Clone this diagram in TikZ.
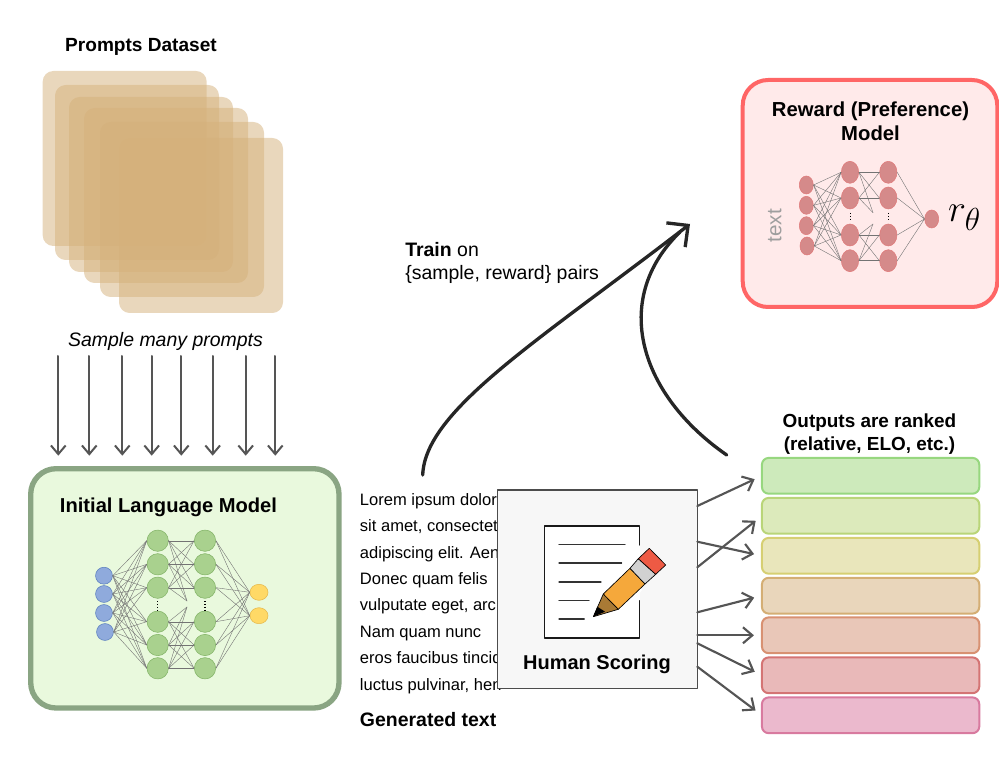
\documentclass[tikz,border=0pt]{standalone}
\usepackage{fontspec}
\setmainfont{Liberation Sans}
\usetikzlibrary{arrows.meta,shapes.geometric,shadows}
\definecolor{ddbbaa}{HTML}{D4B07A}
\definecolor{eeff99}{HTML}{E9F9DD}
\definecolor{aabb88}{HTML}{8AA583}
\definecolor{ffeeee}{HTML}{FFEAEA}
\definecolor{ff6666}{HTML}{FF6666}
\definecolor{qq5555}{HTML}{555555}
\definecolor{aad18e}{HTML}{A9D18E}
\definecolor{82b366}{HTML}{82B366}
\definecolor{8faadc}{HTML}{8FAADC}
\definecolor{5b7fbe}{HTML}{5B7FBE}
\definecolor{ffd966}{HTML}{FFD966}
\definecolor{e6b84a}{HTML}{E6B84A}
\definecolor{d58a8a}{HTML}{D58A8A}
\definecolor{e07a7a}{HTML}{E07A7A}
\definecolor{cdeabb}{HTML}{CDEABB}
\definecolor{97d77f}{HTML}{97D77F}
\definecolor{dceabb}{HTML}{DCEABB}
\definecolor{b9d578}{HTML}{B9D578}
\definecolor{e9e6bb}{HTML}{E9E6BB}
\definecolor{d6cf72}{HTML}{D6CF72}
\definecolor{e9d6bb}{HTML}{E9D6BB}
\definecolor{d4ae74}{HTML}{D4AE74}
\definecolor{e9c7b8}{HTML}{E9C7B8}
\definecolor{d89172}{HTML}{D89172}
\definecolor{e9b9b9}{HTML}{E9B9B9}
\definecolor{d47474}{HTML}{D47474}
\definecolor{ebb9cd}{HTML}{EBB9CD}
\definecolor{d87a9f}{HTML}{D87A9F}
\definecolor{f5a83b}{HTML}{F5A83B}
\definecolor{a97a35}{HTML}{A97A35}
\definecolor{ee5a44}{HTML}{EE5A44}
\tikzset{
	titletext/.style={inner sep=0pt,align=center,font=\fontsize{14.3}{17.6}\selectfont\bfseries},
	plaintext/.style={inner sep=0pt,align=left,font=\fontsize{14.6}{17.5}\selectfont},
	promptsheet/.style={fill=ddbbaa,fill opacity=0.5,rounded corners=8pt},
	modelbox/.style={rectangle,rounded corners=19pt,outer sep=0pt,drop shadow={opacity=0.2,shadow xshift=0pt,shadow yshift=-1.5pt}},
	rankbox/.style={rectangle,draw,line width=1.5pt,rounded corners=5pt,minimum width=163pt,minimum height=26.8pt,outer sep=0pt},
	sampleline/.style={draw=qq5555,line width=1.5pt,-{Straight Barb[length=6.5pt,width=11pt]},shorten >=13*0.75pt},
	scoreline/.style={draw=qq5555,line width=1.6pt,-{Straight Barb[length=7pt,width=12pt]},shorten >=6pt},
	trainline/.style={draw=black!85,line width=2.5pt,line cap=round},
	edge/.style={draw=black!55,line width=0.3pt},
	neuron/.style={ellipse,draw,line width=0.4pt,inner sep=0pt},
}
\begin{document}
\begin{tikzpicture}[line cap=round,line join=round,x=0.75pt,y=-0.75pt]
	\useasboundingbox (0,0) rectangle (999,762);
	% stack of prompts
	\foreach \x/\y in {42.7/71,55/85,69/97,84/108,100/122,119/138}
		\fill[promptsheet] (\x,\y) rectangle ++(164,175);
	\node[titletext] (dataset) at (141,47) {Prompts Dataset};
	\node[plaintext,font=\fontsize{14.6}{17.5}\selectfont\itshape] (sample) at (165.5,341) {Sample many prompts};
	% language model
	\node[modelbox,draw=aabb88,fill=eeff99,line width=4pt,minimum width=231.2pt,minimum height=179.5pt] (model) at (184.85,588.35) {};
	\node[titletext,font=\fontsize{15.1}{18}\selectfont\bfseries] (modeltitle) at (168.5,507.5) {Initial Language Model};
	\foreach \i/\x in {1/58.3,2/89.3,3/122.3,4/151.7,5/181.3,6/212.7,7/245.7,8/275.3}{
		\coordinate (d\i) at (\x,356);
		\draw[sampleline] (d\i) -- (d\i |- model.north);
	}
	% green net
	\foreach \i/\x/\y in {1/104/575.7,2/104/594,3/104/613,4/105/632}
		\node[neuron,draw=5b7fbe,fill=8faadc,minimum width=12.7pt,minimum height=12.7pt] (gi\i) at (\x,\y) {};
	\foreach \i/\y in {1/540.7,2/564.3,3/587.7,4/621.7,5/645,6/668.3}{
		\node[neuron,draw=82b366,fill=aad18e,minimum width=16pt,minimum height=16pt] (ga\i) at (157.7,\y) {};
		\node[neuron,draw=82b366,fill=aad18e,minimum width=16pt,minimum height=16pt] (gb\i) at (205,\y) {};
	}
	\node[neuron,draw=e6b84a,fill=ffd966,minimum width=13.5pt,minimum height=12pt] (go1) at (259,592.3) {};
	\node[neuron,draw=e6b84a,fill=ffd966,minimum width=13.5pt,minimum height=12pt] (go2) at (259,615.7) {};
	\coordinate (gs1) at (187,601);
	\coordinate (gs2) at (187,607);
	\foreach \i in {1,2,3,4}
		\foreach \j in {1,...,6}
			\draw[edge] (gi\i.east) -- (ga\j.west);
	\foreach \i in {1,2,3}{
		\draw[edge] (ga\i.east) -- (gs1);
		\foreach \j in {1,2,3}
			\draw[edge] (ga\i.east) -- (gb\j.west);
	}
	\foreach \i in {4,5,6}{
		\draw[edge] (ga\i.east) -- (gs2);
		\foreach \j in {4,5,6}
			\draw[edge] (ga\i.east) -- (gb\j.west);
	}
	\foreach \i in {1,...,6}
		\foreach \j in {1,2}
			\draw[edge] (gb\i.east) -- (go\j.west);
	\draw[line width=0.8pt,dash pattern=on 1pt off 1.2pt,line cap=butt] (157.7,601) -- (157.7,610);
	\draw[line width=0.8pt,dash pattern=on 1pt off 1.2pt,line cap=butt] (205,601) -- (205,610);
	% reward model
	\node[modelbox,draw=ff6666,fill=ffeeee,line width=3pt,minimum width=190.9pt,minimum height=170.25pt] (reward) at (870,193.5) {};
	\node[titletext,font=\fontsize{15.2}{18}\selectfont\bfseries] (rewardtitle) at (870.5,121) {Reward (Preference)\\Model};
	\node[plaintext,font=\fontsize{15.5}{18}\selectfont,text=black!38,rotate=90] (rtext) at (774.7,225.7) {text};
	\foreach \i/\x/\y in {1/806.3/185,2/806.3/205.3,3/806.3/225.7,4/807/246}
		\node[neuron,draw=e07a7a,fill=d58a8a,minimum width=10.5pt,minimum height=13.5pt] (ri\i) at (\x,\y) {};
	\foreach \i/\y in {1/172.3,2/198,3/235,4/260.7}{
		\node[neuron,draw=e07a7a,fill=d58a8a,minimum width=13pt,minimum height=16.5pt] (ra\i) at (850,\y) {};
		\node[neuron,draw=e07a7a,fill=d58a8a,minimum width=13pt,minimum height=16.5pt] (rb\i) at (888.3,\y) {};
	}
	\node[neuron,draw=e07a7a,fill=d58a8a,minimum width=10.5pt,minimum height=13.5pt] (ro) at (931.7,219) {};
	\coordinate (rs1) at (873,212.7);
	\coordinate (rs2) at (873,224);
	\foreach \i in {1,2,3,4}{
		\foreach \j in {1,2,3,4}
			\draw[edge] (ri\i.east) -- (ra\j.west);
		\draw[edge] (rb\i.east) -- (ro.west);
	}
	\foreach \i in {1,2}{
		\draw[edge] (ra\i.east) -- (rs1);
		\foreach \j in {1,2}
			\draw[edge] (ra\i.east) -- (rb\j.west);
	}
	\foreach \i in {3,4}{
		\draw[edge] (ra\i.east) -- (rs2);
		\foreach \j in {3,4}
			\draw[edge] (ra\i.east) -- (rb\j.west);
	}
	\draw[line width=0.8pt,dash pattern=on 1pt off 1.2pt,line cap=butt] (850.7,213) -- (850.7,221);
	\draw[line width=0.8pt,dash pattern=on 1pt off 1.2pt,line cap=butt] (888.3,213) -- (888.3,221);
	\node[inner sep=0pt,font=\fontsize{24.88}{28}\selectfont] (rtheta) at (964.5,218) {\scalebox{1.15}{$r_\theta$}};
	% generated text, the scoring box covers the line ends
	\node[plaintext,font=\fontsize{12.4}{19.8}\selectfont,anchor=north west] (gentext) at (359.7,493) {Lorem ipsum dolor\\sit amet, consectet\\adipiscing elit. Aen\\Donec quam felis\\vulputate eget, arc\\Nam quam nunc\\eros faucibus tincid\\luctus pulvinar, hen};
	\node[titletext,font=\fontsize{14.6}{17.6}\selectfont\bfseries,anchor=west] (gentitle) at (359.7,720) {Generated text};
	\node[plaintext,anchor=west] (trainlabel) at (405,263) {\textbf{Train} on\\\{sample, reward\} pairs};
	% human scoring
	\node[rectangle,draw=black!70,fill=black!3,line width=0.8pt,minimum width=149.5pt,minimum height=149pt,outer sep=0pt] (score) at (597.4,589.3) {};
	\fill[white] (544.3,526) rectangle (639.7,638);
	\draw[line width=0.8pt,black!90] (639.7,545) -- (639.7,526) -- (544.3,526) -- (544.3,638) -- (639.7,638) -- (639.7,600.7);
	\foreach \x/\y in {625/544.3,621.7/563,601/582,589/600.3,584.3/619}
		\draw[line width=0.8pt,black!80] (559,\y) -- (\x,\y);
	\fill[white] (600,590) -- (630,561) -- (642,590) -- (622,615) -- cycle;
	\filldraw[fill=a97a35,line width=0.5pt] (593.3,616.7) -- (603.3,594) -- (618.3,609.3) -- cycle;
	\fill[black] (593.3,616.7) -- (597.3,606.7) -- (605,611.7) -- cycle;
	\filldraw[fill=f5a83b,line width=0.5pt] (603.3,594) -- (630,568.3) -- (645,584) -- (618.3,609.3) -- cycle;
	\filldraw[fill=black!18,line width=0.5pt] (630,568.3) -- (638.3,558.7) -- (655.7,574.3) -- (645,584) -- cycle;
	\filldraw[fill=ee5a44,line width=0.5pt] (638.3,558.7) -- (649.3,548.3) -- (665.7,565) -- (655.7,574.3) -- cycle;
	\node[titletext,font=\fontsize{15}{18}\selectfont\bfseries] (scoretitle) at (597,664) {Human Scoring};
	% ranked outputs
	\node[titletext,font=\fontsize{14.2}{17.5}\selectfont\bfseries] (ranktitle) at (869.5,434) {Outputs are ranked\\(relative, ELO, etc.)};
	\foreach \i/\y/\f/\d in {1/475.8/cdeabb/97d77f,2/515.8/dceabb/b9d578,3/555.8/e9e6bb/d6cf72,4/595.7/e9d6bb/d4ae74,5/635.3/e9c7b8/d89172,6/675.3/e9b9b9/d47474,7/715.3/ebb9cd/d87a9f}
		\node[rankbox,draw=\d,fill=\f] (rank\i) at (870.6,\y) {};
	\foreach \i/\y in {1/506,2/567.3,3/541.7,4/612.3,5/635.3,6/643.3,7/666.7}{
		\coordinate (s\i) at (697.3,\y);
		\draw[scoreline] (s\i) -- (rank\i.west);
	}
	% training curves
	\coordinate (genout) at (422.7,475);
	\coordinate (rankout) at (726.7,455);
	\coordinate (rewardin) at (690,224);
	\coordinate (merge) at (680,232);
	\draw[trainline,-{Straight Barb[length=11.7pt,width=23pt]}] (genout) .. controls (425,410) and (540,340) .. (rewardin);
	\draw[trainline] (rankout) .. controls (640,395) and (610,300) .. (merge);
\end{tikzpicture}
\end{document}
